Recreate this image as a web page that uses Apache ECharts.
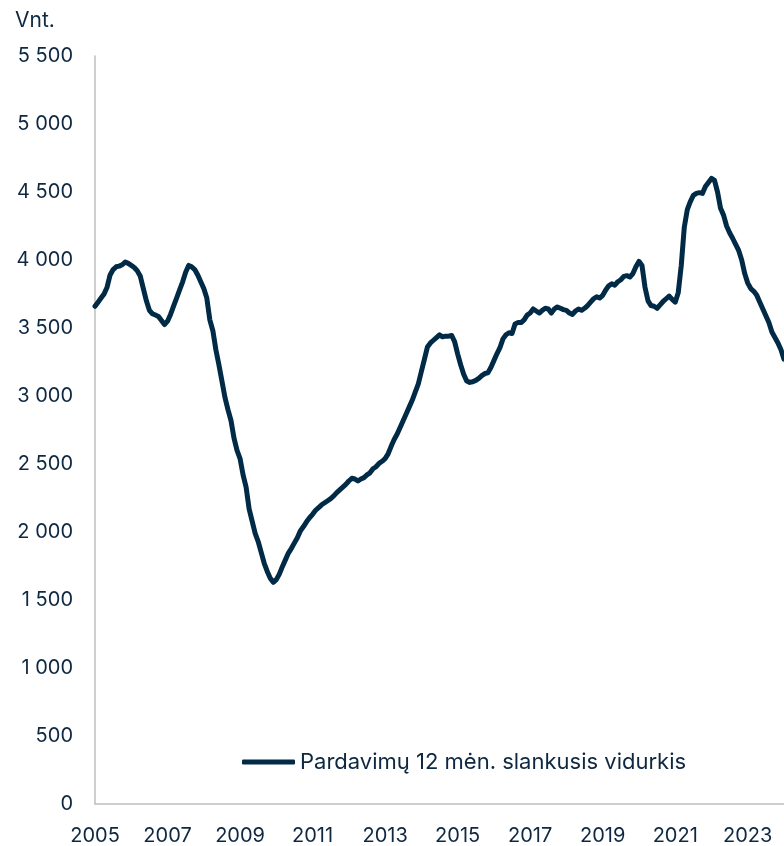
<!DOCTYPE html>
<html>
<head>
<meta charset="utf-8">
<script src="https://cdn.jsdelivr.net/npm/echarts@6/dist/echarts.min.js"></script>
<style>
  html, body { margin: 0; padding: 0; background: #ffffff; }
  #chart { width: 784px; height: 846px; }
</style>
</head>
<body>
<div id="chart"></div>
<script>
// Monthly series, January 2005 – January 2024
const startYear = 2005;
const seriesName = 'Pardavimų 12 mėn. slankusis vidurkis';
const unitLabel = 'Vnt.';

const sales2005 = [3660, 3690, 3720, 3750, 3800, 3890, 3930, 3950, 3955, 3965, 3985, 3975];
const sales2006 = [3960, 3945, 3920, 3880, 3790, 3700, 3630, 3605, 3595, 3585, 3555, 3525];
const sales2007 = [3550, 3600, 3660, 3720, 3780, 3840, 3910, 3960, 3950, 3930, 3890, 3840];
const sales2008 = [3790, 3720, 3560, 3480, 3340, 3230, 3110, 2990, 2900, 2820, 2690, 2600];
const sales2009 = [2540, 2420, 2330, 2170, 2080, 1990, 1930, 1850, 1770, 1710, 1660, 1630];
const sales2010 = [1650, 1690, 1745, 1795, 1845, 1880, 1920, 1960, 2010, 2040, 2075, 2105];
const sales2011 = [2130, 2160, 2180, 2200, 2215, 2230, 2245, 2265, 2290, 2310, 2330, 2350];
const sales2012 = [2375, 2395, 2390, 2375, 2390, 2400, 2420, 2435, 2465, 2480, 2505, 2520];
const sales2013 = [2540, 2575, 2630, 2680, 2720, 2770, 2820, 2870, 2920, 2970, 3030, 3090];
const sales2014 = [3180, 3270, 3360, 3390, 3410, 3430, 3450, 3435, 3440, 3440, 3445, 3400];
const sales2015 = [3310, 3230, 3160, 3110, 3100, 3105, 3115, 3130, 3150, 3165, 3170, 3210];
const sales2016 = [3260, 3310, 3355, 3420, 3450, 3465, 3460, 3530, 3540, 3540, 3560, 3595];
const sales2017 = [3610, 3640, 3625, 3610, 3630, 3645, 3640, 3610, 3640, 3655, 3645, 3635];
const sales2018 = [3630, 3610, 3600, 3625, 3640, 3630, 3645, 3665, 3690, 3715, 3730, 3720];
const sales2019 = [3740, 3780, 3810, 3825, 3815, 3840, 3855, 3880, 3885, 3875, 3900, 3950];
const sales2020 = [3990, 3960, 3800, 3700, 3665, 3660, 3645, 3670, 3695, 3715, 3735, 3710];
const sales2021 = [3690, 3760, 3960, 4240, 4370, 4430, 4475, 4490, 4495, 4490, 4540, 4570];
const sales2022 = [4600, 4585, 4500, 4380, 4330, 4250, 4200, 4160, 4115, 4070, 4000, 3900];
const sales2023 = [3830, 3790, 3770, 3740, 3690, 3640, 3590, 3540, 3470, 3430, 3390, 3340];
const sales2024 = [3270];

const sales = [].concat(
  sales2005, sales2006, sales2007, sales2008, sales2009, sales2010, sales2011,
  sales2012, sales2013, sales2014, sales2015, sales2016, sales2017, sales2018,
  sales2019, sales2020, sales2021, sales2022, sales2023, sales2024
);

// Month categories "YYYY-MM"
const months = sales.map(function (_, i) {
  const y = startYear + Math.floor(i / 12);
  const m = (i % 12) + 1;
  return y + '-' + (m < 10 ? '0' + m : m);
});

const textColor = '#0e2841';
const lineColor = '#002a46';
const axisColor = '#bfbfbf';
const fontFamily = 'Inter, "Open Sans", sans-serif';

function spaced(v) {
  return String(v).replace(/\B(?=(\d{3})+(?!\d))/g, ' ');
}

const chart = echarts.init(document.getElementById('chart'), null, { renderer: 'canvas' });
chart.setOption({
  animation: false,
  backgroundColor: '#ffffff',
  textStyle: { fontFamily: fontFamily, color: textColor },
  title: {
    text: unitLabel,
    left: 10,
    top: 5,
    textStyle: { fontFamily: fontFamily, fontSize: 21, fontWeight: 'normal', color: textColor }
  },
  grid: { left: 95, right: 0, top: 56, bottom: 41, containLabel: false },
  legend: {
    data: [seriesName],
    icon: 'roundRect',
    left: 242,
    top: 751,
    padding: 0,
    itemWidth: 53,
    itemHeight: 5,
    itemStyle: { color: lineColor, borderWidth: 0 },
    textStyle: { fontFamily: fontFamily, fontSize: 22, color: textColor }
  },
  xAxis: {
    type: 'category',
    data: months,
    boundaryGap: false,
    axisLine: { show: true, lineStyle: { color: axisColor, width: 1.5 } },
    axisTick: { show: false },
    axisLabel: {
      interval: function (index) { return index % 24 === 0; },
      formatter: function (val) { return val.slice(0, 4); },
      fontFamily: fontFamily,
      fontSize: 20,
      color: textColor,
      margin: 22
    },
    splitLine: { show: false }
  },
  yAxis: {
    type: 'value',
    min: 0,
    max: 5500,
    interval: 500,
    axisLine: { show: true, lineStyle: { color: axisColor, width: 1.5 } },
    axisTick: { show: false },
    splitLine: { show: false },
    axisLabel: {
      formatter: function (v) { return spaced(v); },
      fontFamily: fontFamily,
      fontSize: 20,
      color: textColor,
      margin: 22
    }
  },
  series: [{
    name: seriesName,
    type: 'line',
    data: sales,
    symbol: 'none',
    smooth: false,
    lineStyle: { color: lineColor, width: 5, join: 'round', cap: 'round' },
    itemStyle: { color: lineColor }
  }]
});
</script>
</body>
</html>
